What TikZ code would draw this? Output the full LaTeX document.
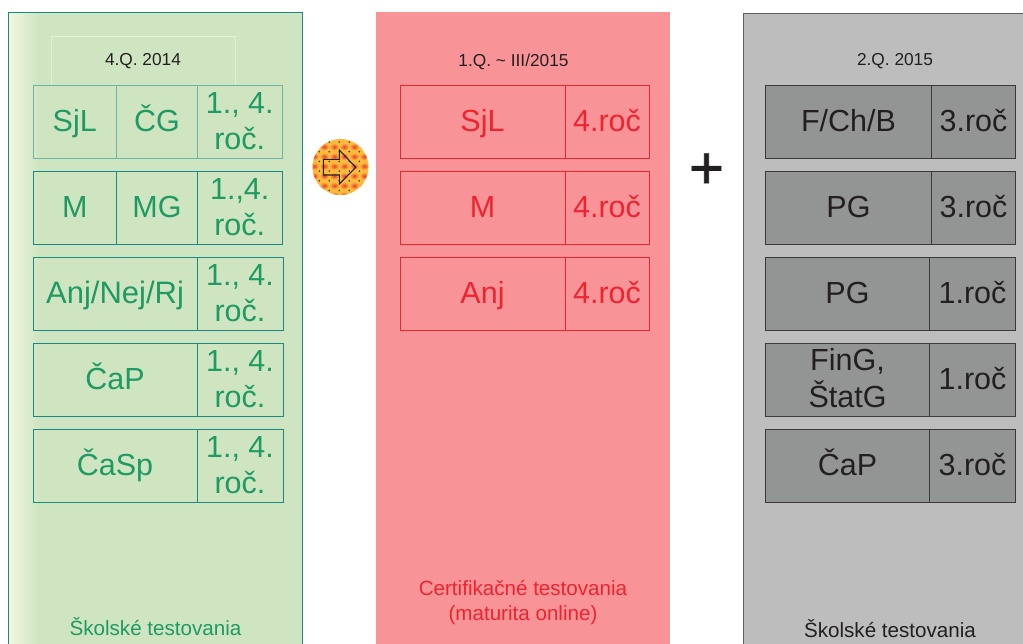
\documentclass[tikz,border=0pt]{standalone}
\usepackage{fontspec}
\setmainfont{Liberation Sans}
\newfontfamily\plusfont[RawFeature={embolden=1.2}]{Liberation Sans}
\definecolor{gpanel}{HTML}{CFE5C2}
\definecolor{gpale}{HTML}{F3F6E0}
\definecolor{gline}{HTML}{1B8A80}
\definecolor{gtext}{HTML}{1F9A62}
\definecolor{gsoft}{HTML}{6FB5A5}
\definecolor{ghead}{HTML}{E2F0D8}
\definecolor{rpanel}{HTML}{F89497}
\definecolor{rline}{HTML}{EE2430}
\definecolor{grpanel}{HTML}{BDBDBD}
\definecolor{grbox}{HTML}{939594}
\definecolor{grline}{HTML}{3A3A3A}
\definecolor{ink}{HTML}{231F20}
\definecolor{discbase}{HTML}{FDBB3E}
\definecolor{discred}{HTML}{EE3A2A}
\definecolor{discdot}{HTML}{4A3010}
\tikzset{
 x=1pt,y=-1pt,
 cw/.style={minimum width=#1pt},
 cell/.style={draw,anchor=north west,inner sep=0pt,outer sep=0pt,line width=0.9pt,minimum height=73pt,align=center,
   font=\fontsize{30.5}{36.5}\selectfont,text height=23pt,text depth=4pt},
 two/.style={text height=60pt,text depth=4pt},
 gcell/.style={cell,draw=gline,text=gtext},
 gsoftcell/.style={cell,draw=gsoft,text=gtext},
 rcell/.style={cell,draw=rline,text=rline,fill=rpanel},
 grcell/.style={cell,draw=grline,text=ink,fill=grbox},
 small/.style={font=\fontsize{17.3}{20}\selectfont,text=ink,inner sep=0pt},
 caption/.style={font=\fontsize{20.6}{25}\selectfont,inner sep=0pt,align=center},
}
\begin{document}
\begin{tikzpicture}
\useasboundingbox (0,0) rectangle (1023,643);
% panels
\fill[gpanel] (8.5,12) rectangle (302.5,650);
\shade[left color=gpale,right color=gpanel] (8.5,12) rectangle (38,650);
\draw[gline,line width=0.9pt] (8.5,650) -- (8.5,12) -- (302.5,12) -- (302.5,650);
\fill[rpanel] (376,12) rectangle (670,650);
\fill[grpanel] (743.5,13) rectangle (1030,650);
\draw[grline!80!white,line width=0.9pt] (743.5,650) -- (743.5,13) -- (1030,13);
% header
\node[draw=ghead,line width=0.7pt,anchor=north west,minimum width=184pt,minimum height=49pt,inner sep=0pt,outer sep=0pt] (headg) at (51,36) {};
\node[small] (tg) at (143,61.5) {4.Q. 2014};
\node[small] (tr) at (513.5,61.5) {1.Q. \symbol{"007E} III/2015};
\node[small] (tk) at (895,61.5) {2.Q. 2015};
% green rows
\node[gsoftcell,cw=83.5] (g1a) at (33,85) {SjL};
\node[gsoftcell,cw=81] (g1b) at (116.5,85) {ČG};
\node[gsoftcell,cw=84.5,two] (g1c) at (197.5,85) {1., 4.\\roč.};
\node[gcell,cw=83.5] (g2a) at (33,171) {M};
\node[gcell,cw=81] (g2b) at (116.5,171) {MG};
\node[gcell,cw=84.5,two] (g2c) at (197.5,171) {1.,4.\\roč.};
\node[gcell,cw=164,font=\fontsize{31}{36.5}\selectfont] (g3a) at (33,257) {Anj/Nej/Rj};
\node[gcell,cw=86,two] (g3b) at (197,257) {1., 4.\\roč.};
\node[gcell,cw=164] (g4a) at (33,343) {ČaP};
\node[gcell,cw=86,two] (g4b) at (197,343) {1., 4.\\roč.};
\node[gcell,cw=164] (g5a) at (33,429) {ČaSp};
\node[gcell,cw=86,two] (g5b) at (197,429) {1., 4.\\roč.};
% red rows
\node[rcell,cw=165] (r1a) at (400,85) {SjL};
\node[rcell,cw=84] (r1b) at (565,85) {4.roč};
\node[rcell,cw=165] (r2a) at (400,171) {M};
\node[rcell,cw=84] (r2b) at (565,171) {4.roč};
\node[rcell,cw=165] (r3a) at (400,257) {Anj};
\node[rcell,cw=84] (r3b) at (565,257) {4.roč};
% gray rows
\node[grcell,cw=166] (k1a) at (765.5,85) {F/Ch/B};
\node[grcell,cw=84] (k1b) at (931.5,85) {3.roč};
\node[grcell,cw=166] (k2a) at (765.5,171) {PG};
\node[grcell,cw=84] (k2b) at (931.5,171) {3.roč};
\node[grcell,cw=164] (k3a) at (765.5,257) {PG};
\node[grcell,cw=86] (k3b) at (929.5,257) {1.roč};
\node[grcell,cw=164,text height=59.5pt,text depth=4pt] (k4a) at (765.5,343) {FinG,\\ŠtatG};
\node[grcell,cw=86] (k4b) at (929.5,343) {1.roč};
\node[grcell,cw=164] (k5a) at (765.5,429) {ČaP};
\node[grcell,cw=86] (k5b) at (929.5,429) {3.roč};
% captions
\node[caption,text=gtext] (cg) at (155.5,627) {Školské testovania};
\node[caption,text=rline] (cr) at (523,603) {Certifikačné testovania\\(maturita online)};
\node[caption,text=ink] (ck) at (890,629) {Školské testovania};
% arrow disc
\begin{scope}
\clip (340.5,167) circle (28);
\fill[discbase] (310,137) rectangle (371,197);
\foreach \i in {0,...,5}{\foreach \j in {0,...,5}{
  \shade[inner color=discred,outer color=discbase] ({314.3+\i*10},{146.8+\j*9.7}) ellipse (4.6 and 3.6);
}}
\foreach \i in {0,...,6}{\foreach \j in {0,...,6}{
  \fill[discdot] ({309.3+\i*10},{142+\j*9.7-9.7}) circle (0.9);
}}
\end{scope}
\draw[ink,line width=1.1pt,line join=miter] (323.3,159.3) -- (339.3,159.3) -- (339.3,150) -- (355.7,167.3) -- (339.3,184) -- (339.3,175) -- (323.3,175) -- cycle;
\node[font=\plusfont\fontsize{60}{60}\selectfont,text=ink,inner sep=0pt] (plus) at (706.5,171) {+};
\end{tikzpicture}
\end{document}
